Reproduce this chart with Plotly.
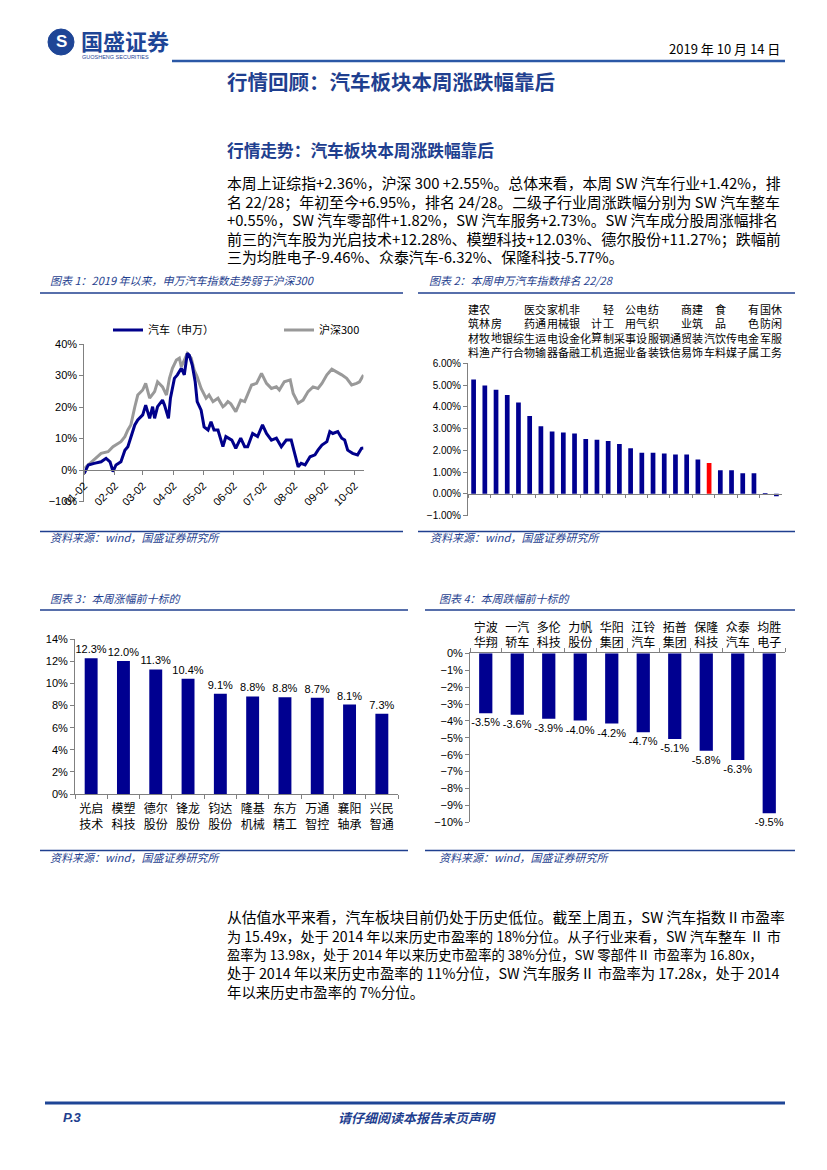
import plotly.graph_objects as go

PAGE_W, PAGE_H = 827, 1170
OFF = 8  # default body margin of the html page
FW, FH = PAGE_W - 2 * OFF, PAGE_H - 2 * OFF


def px(x):
    return (x - OFF) / FW


def py(y):
    return 1 - (y - OFF) / FH


NAVY = '#1F3F8F'
BAR = '#000090'
CJK = 'Noto Sans CJK SC'
LAT = 'Liberation Sans, Noto Sans CJK SC'

# ---------------- Chart 1: index trend (% since 2019-01-02) ----------------
auto_dates = ['2019-01-02', '2019-01-06', '2019-01-12', '2019-01-19', '2019-01-24', '2019-01-28', '2019-01-31',
              '2019-02-03', '2019-02-08', '2019-02-12', '2019-02-15', '2019-02-18', '2019-02-22', '2019-02-25',
              '2019-03-02', '2019-03-05', '2019-03-09', '2019-03-12', '2019-03-14', '2019-03-17', '2019-03-22',
              '2019-03-24', '2019-03-28', '2019-03-30', '2019-04-03', '2019-04-06', '2019-04-10', '2019-04-13',
              '2019-04-16', '2019-04-18', '2019-04-21', '2019-04-24', '2019-04-26', '2019-04-30', '2019-05-03',
              '2019-05-07', '2019-05-10', '2019-05-13', '2019-05-17', '2019-05-22', '2019-05-25', '2019-05-31',
              '2019-06-04', '2019-06-09', '2019-06-13', '2019-06-16', '2019-06-21', '2019-06-26', '2019-07-01',
              '2019-07-05', '2019-07-10', '2019-07-15', '2019-07-20', '2019-07-25', '2019-07-30', '2019-08-02',
              '2019-08-06', '2019-08-09', '2019-08-13', '2019-08-18', '2019-08-23', '2019-08-26', '2019-08-30',
              '2019-09-04', '2019-09-07', '2019-09-10', '2019-09-15', '2019-09-19', '2019-09-22', '2019-09-25',
              '2019-09-30', '2019-10-05', '2019-10-09', '2019-10-11']
auto_vals = [-1.1, 1.6, 2.1, 2.6, 3.7, 2.6, -0.5, 1.6, 2.6, 6.3, 7.4, 10.6, 14.3, 15.9, 17.5, 20.6, 16.4, 20.1,
             16.4, 20.1, 22.2, 20.6, 16.4, 22.8, 29.1, 30.2, 32.3, 30.2, 37.0, 36.5, 33.3, 28.0, 21.7, 19.0, 13.7,
             12.7, 15.3, 12.7, 12.7, 7.4, 10.6, 9.5, 6.9, 10.1, 7.4, 7.4, 11.6, 10.6, 14.3, 11.6, 9.5, 10.1, 7.4,
             9.5, 9.5, 5.8, 1.0, 2.1, 1.6, 4.2, 4.8, 6.3, 7.9, 9.0, 12.2, 11.6, 12.2, 10.1, 9.5, 6.3, 5.3, 4.8,
             6.9, 7.0]

hs_dates = ['2019-01-02', '2019-01-09', '2019-01-19', '2019-01-26', '2019-01-31', '2019-02-08', '2019-02-12',
            '2019-02-15', '2019-02-18', '2019-02-22', '2019-02-25', '2019-03-02', '2019-03-05', '2019-03-09',
            '2019-03-14', '2019-03-17', '2019-03-22', '2019-03-26', '2019-03-29', '2019-04-01', '2019-04-05',
            '2019-04-08', '2019-04-10', '2019-04-13', '2019-04-16', '2019-04-20', '2019-04-23', '2019-04-26',
            '2019-04-30', '2019-05-05', '2019-05-08', '2019-05-12', '2019-05-17', '2019-05-22', '2019-05-24',
            '2019-05-27', '2019-05-30', '2019-06-04', '2019-06-09', '2019-06-13', '2019-06-20', '2019-06-25',
            '2019-06-30', '2019-07-05', '2019-07-10', '2019-07-15', '2019-07-18', '2019-07-23', '2019-07-29',
            '2019-08-01', '2019-08-06', '2019-08-11', '2019-08-16', '2019-08-21', '2019-08-26', '2019-08-30',
            '2019-09-04', '2019-09-09', '2019-09-14', '2019-09-19', '2019-09-24', '2019-09-29', '2019-10-04',
            '2019-10-07', '2019-10-11']
hs_vals = [0.5, 2.6, 5.3, 5.8, 7.4, 9.0, 10.6, 12.7, 14.3, 20.0, 23.8, 25.4, 27.5, 22.8, 24.9, 28.0, 26.4, 23.8,
           29.1, 32.3, 34.9, 35.5, 32.8, 34.9, 37.0, 35.5, 31.7, 29.6, 25.9, 22.8, 23.8, 21.7, 22.8, 20.1, 20.6,
           21.7, 21.0, 18.5, 22.2, 21.7, 27.0, 27.5, 30.7, 27.5, 25.9, 26.4, 25.4, 28.0, 28.6, 24.3, 21.2, 22.2,
           24.9, 26.4, 25.9, 27.5, 30.2, 32.0, 31.2, 30.2, 29.1, 27.0, 27.5, 28.0, 30.2]

month_ticks = ['2019-01-02', '2019-02-02', '2019-03-02', '2019-04-02', '2019-05-02',
               '2019-06-02', '2019-07-02', '2019-08-02', '2019-09-02', '2019-10-02']
month_labels = ['01-02', '02-02', '03-02', '04-02', '05-02', '06-02', '07-02', '08-02', '09-02', '10-02']

# ---------------- Chart 2: SW industries weekly change (%) ----------------
ind_names = ['建筑材料', '农林牧渔', '房地产', '银行', '综合', '医药生物', '交通运输', '家用电器', '机械设备',
             '非银金融', '化工', '计算机', '轻工制造', '采掘', '公用事业', '电气设备', '纺织服装', '钢铁', '通信',
             '商业贸易', '建筑装饰', '汽车', '食品饮料', '传媒', '电子', '有色金属', '国防军工', '休闲服务']
ind_vals = [5.26, 4.98, 4.78, 4.54, 4.20, 3.58, 3.11, 2.86, 2.82, 2.77, 2.52, 2.48, 2.43, 2.29, 2.09, 1.89,
            1.89, 1.85, 1.80, 1.80, 1.57, 1.42, 1.08, 1.08, 0.94, 0.94, 0.02, -0.12]
highlight = '汽车'

# ---------------- Chart 3: top 10 gainers (%) ----------------
gain_names = ['光启技术', '模塑科技', '德尔股份', '锋龙股份', '钧达股份', '隆基机械', '东方精工', '万通智控',
              '襄阳轴承', '兴民智通']
gain_vals = [12.28, 12.03, 11.27, 10.43, 9.08, 8.83, 8.76, 8.72, 8.10, 7.27]

# ---------------- Chart 4: top 10 losers (%) ----------------
loss_names = ['宁波华翔', '一汽轿车', '多伦科技', '力帆股份', '华阳集团', '江铃汽车', '拓普集团', '保隆科技',
              '众泰汽车', '均胜电子']
loss_vals = [-3.54, -3.63, -3.87, -3.98, -4.16, -4.67, -5.07, -5.77, -6.32, -9.46]

# ---------------- Page text ----------------
para1 = ['本周上证综指+2.36%，沪深 300 +2.55%。总体来看，本周 SW 汽车行业+1.42%，排',
         '名 22/28；年初至今+6.95%，排名 24/28。二级子行业周涨跌幅分别为 SW 汽车整车',
         '+0.55%，SW 汽车零部件+1.82%，SW 汽车服务+2.73%。SW 汽车成分股周涨幅排名',
         '前三的汽车股为光启技术+12.28%、模塑科技+12.03%、德尔股份+11.27%；跌幅前',
         '三为均胜电子-9.46%、众泰汽车-6.32%、保隆科技-5.77%。']
para1_sizes = [14.85, 14.95, 14.75, 15.0, 14.9]
para2 = ['从估值水平来看，汽车板块目前仍处于历史低位。截至上周五，SW 汽车指数Ⅱ市盈率',
         '为 15.49x，处于 2014 年以来历史市盈率的 18%分位。从子行业来看，SW 汽车整车 Ⅱ 市',
         '盈率为 13.98x，处于 2014 年以来历史市盈率的 38%分位，SW 零部件Ⅱ 市盈率为 16.80x，',
         '处于 2014 年以来历史市盈率的 11%分位，SW 汽车服务Ⅱ 市盈率为 17.28x，处于 2014',
         '年以来历史市盈率的 7%分位。']
para2_sizes = [14.8, 14.1, 13.3, 14.35, 14.4]

fig = go.Figure()

fig.add_trace(go.Scatter(x=hs_dates, y=hs_vals, name='沪深300', mode='lines',
                         line=dict(color='#999999', width=3), xaxis='x', yaxis='y', legendrank=2))
fig.add_trace(go.Scatter(x=auto_dates, y=auto_vals, name='汽车（申万）', mode='lines',
                         line=dict(color='#00008B', width=3), xaxis='x', yaxis='y', legendrank=1))

fig.add_trace(go.Bar(x=ind_names, y=ind_vals, width=0.42, showlegend=False,
                     marker=dict(color=['#FF0000' if n == highlight else BAR for n in ind_names], line_width=0),
                     xaxis='x2', yaxis='y2'))

fig.add_trace(go.Bar(x=gain_names, y=gain_vals, width=0.4, showlegend=False,
                     marker=dict(color=BAR, line_width=0),
                     text=[f'{v:.1f}%' for v in gain_vals], textposition='outside', cliponaxis=False,
                     constraintext='none',
                     textfont=dict(size=11, color='black', family=LAT),
                     xaxis='x3', yaxis='y3'))

fig.add_trace(go.Bar(x=loss_names, y=loss_vals, width=0.42, showlegend=False,
                     marker=dict(color=BAR, line_width=0),
                     text=[f'{v:.1f}%' for v in loss_vals], textposition='outside', cliponaxis=False,
                     constraintext='none',
                     textfont=dict(size=11, color='black', family=LAT),
                     xaxis='x4', yaxis='y4'))

axis_common = dict(showgrid=False, zeroline=False, showline=True, linecolor='#808080', linewidth=1,
                   ticks='outside', ticklen=4, tickcolor='#808080', automargin=False,
                   tickfont=dict(size=11, color='black', family=LAT))

fig.update_layout(
    width=FW, height=FH, margin=dict(l=0, r=0, t=0, b=0, autoexpand=False),
    paper_bgcolor='white', plot_bgcolor='white',
    font=dict(family=LAT, size=11, color='black'),
    showlegend=True,
    legend=dict(orientation='h', x=px(108), y=py(330), xanchor='left', yanchor='middle',
                font=dict(size=11, family=CJK, color='black'), bgcolor='rgba(0,0,0,0)',
                entrywidth=126, entrywidthmode='pixels'),
    xaxis=dict(axis_common, domain=[px(84.3), px(363.5)], type='date', range=['2019-01-02', '2019-10-11'],
               anchor='free', position=py(470), tickmode='array', tickvals=month_ticks, ticktext=month_labels,
               tickangle=-45),
    yaxis=dict(axis_common, domain=[py(501.5), py(344)], range=[-10, 40], dtick=10, ticksuffix='%', anchor='x'),
    xaxis2=dict(axis_common, domain=[px(468), px(782)], type='category', range=[-0.5, 27.5], anchor='free',
                position=py(493.8), showticklabels=False, tickson='boundaries', ticklen=3),
    yaxis2=dict(axis_common, domain=[py(515.5), py(363.3)], range=[-1, 6], dtick=1, tickformat='.2f',
                ticksuffix='%', anchor='x2', tickfont=dict(size=10, color='black', family=LAT)),
    xaxis3=dict(axis_common, domain=[px(75), px(398)], type='category', anchor='y3', tickson='boundaries',
                tickmode='array', tickvals=gain_names, ticktext=[n[:2] + '<br>' + n[2:] for n in gain_names],
                tickangle=0, ticklabelstandoff=4, tickfont=dict(size=12, color='black', family=CJK)),
    yaxis3=dict(axis_common, domain=[py(794), py(639.3)], range=[0, 14], dtick=2, ticksuffix='%', anchor='x3'),
    xaxis4=dict(axis_common, domain=[px(470), px(785)], type='category', anchor='y4', side='top',
                tickson='boundaries', tickmode='array', tickvals=loss_names,
                ticktext=[n[:2] + '<br>' + n[2:] for n in loss_names],
                tickangle=0, tickfont=dict(size=12, color='black', family=CJK)),
    yaxis4=dict(axis_common, domain=[py(822.3), py(653.3)], range=[-10, 0], dtick=1, ticksuffix='%', anchor='x4'),
)

ann = []


def text(x, y, s, size, color='black', xanchor='left', family=CJK, yanchor='middle'):
    ann.append(dict(x=px(x), y=py(y), xref='paper', yref='paper', text=s, showarrow=False,
                    xanchor=xanchor, yanchor=yanchor, align='left',
                    font=dict(size=size, color=color, family=family)))


def paragraph(x, y_center, lines, sizes, base):
    body = '<br>'.join(f'<span style="font-size:{fs}px">{s}</span>' for s, fs in zip(lines, sizes))
    text(x, y_center, body, base)


# Chart 2 category labels (vertical text, bottom-aligned)
for n in ind_names:
    ann.append(dict(x=n, y=py(362), xref='x2', yref='paper', text='<br>'.join(n), showarrow=False,
                    xanchor='center', yanchor='bottom', align='center',
                    font=dict(size=11, color='black', family=CJK)))

# Header
text(79, 40, '<b>国盛证券</b>', 22, '#1E4596')
text(80, 57, 'GUOSHENG SECURITIES', 5.5, '#1E4596', family=LAT)
text(61, 42, '<b>S</b>', 17, 'white', xanchor='center', family=LAT)
text(782, 48, '2019 年 10 月 14 日', 13, 'black', xanchor='right')
text(225, 81, '<b>行情回顾：汽车板块本周涨跌幅靠后</b>', 20.5, NAVY)
text(225, 150, '<b>行情走势：汽车板块本周涨跌幅靠后</b>', 16.7, NAVY)

paragraph(225, 219.5, para1, para1_sizes, 14.3)
paragraph(225, 953.5, para2, para2_sizes, 14.4)

# Chart titles and sources
text(48, 280, '<i>图表 1：2019 年以来，申万汽车指数走势弱于沪深300</i>', 11, NAVY)
text(427, 280, '<i>图表 2：本周申万汽车指数排名 22/28</i>', 11, NAVY)
text(48, 598, '<i>图表 3：本周涨幅前十标的</i>', 11, NAVY)
text(437, 598, '<i>图表 4：本周跌幅前十标的</i>', 11, NAVY)
text(48, 537, '<i>资料来源：wind，国盛证券研究所</i>', 11, NAVY)
text(428, 537, '<i>资料来源：wind，国盛证券研究所</i>', 11, NAVY)
text(48, 857, '<i>资料来源：wind，国盛证券研究所</i>', 11, NAVY)
text(437, 857, '<i>资料来源：wind，国盛证券研究所</i>', 11, NAVY)

# Footer
text(61, 1117, '<b><i>P.3</i></b>', 13, NAVY, family=LAT)
text(417, 1117, '<b><i>请仔细阅读本报告末页声明</i></b>', 13, NAVY, xanchor='center')

fig.update_layout(annotations=ann)

shapes = []


def hline(x0, x1, y, w, color=NAVY):
    shapes.append(dict(type='line', xref='paper', yref='paper', x0=px(x0), x1=px(x1), y0=py(y), y1=py(y),
                       line=dict(color=color, width=w)))


hline(172, 785, 61, 2.5, '#2B58A6')
hline(40, 403, 293, 1.3)
hline(418, 795, 293, 1.3)
hline(40, 403, 531.5, 1.3)
hline(418, 795, 531.5, 1.3)
hline(40, 408, 610, 1.3)
hline(425, 795, 610, 1.3)
hline(40, 408, 850.5, 1.3)
hline(425, 795, 850.5, 1.3)
hline(45, 785, 1103, 3, '#1E4596')
shapes.append(dict(type='circle', xref='paper', yref='paper', x0=px(48), x1=px(74), y0=py(55), y1=py(29),
                   fillcolor='#1E4596', line=dict(color='#1E4596', width=1)))
fig.update_layout(shapes=shapes)

fig.write_html('out.html')
